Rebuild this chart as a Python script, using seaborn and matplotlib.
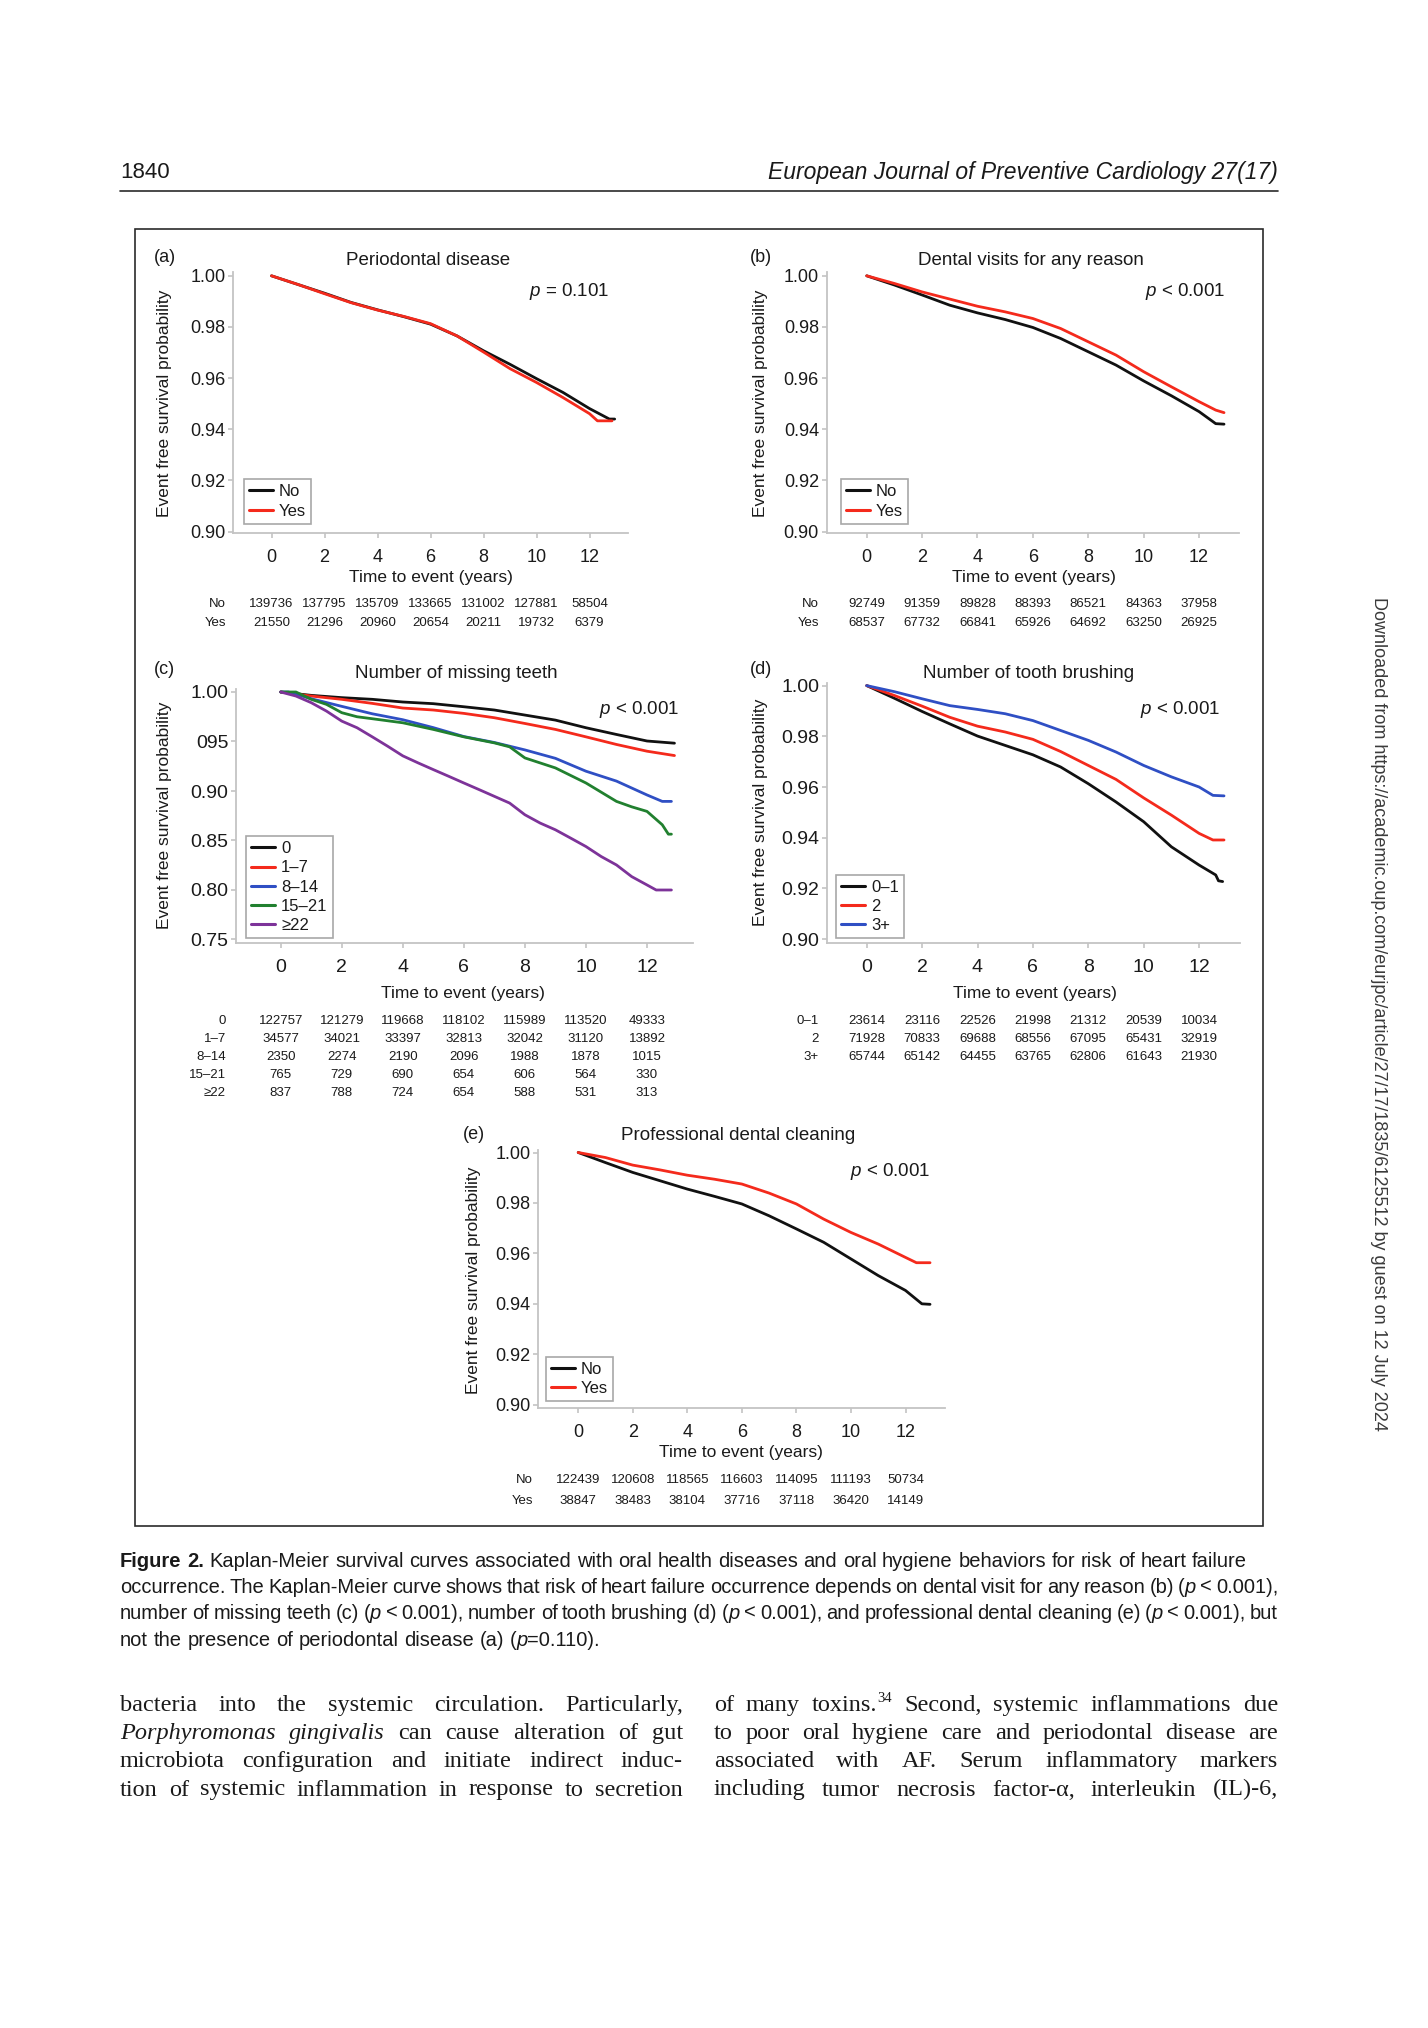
import numpy as np
import pandas as pd
import matplotlib
matplotlib.use("Agg")
import matplotlib.pyplot as plt
import seaborn as sns
from matplotlib import font_manager, transforms
from matplotlib.lines import Line2D
from matplotlib.patches import Rectangle

W, H = 1428, 2028

# ---------------- data ----------------
years = [0, 2, 4, 6, 8, 10, 12]

# (a) Periodontal disease
a_t_no = [0, 1, 2, 3, 4, 5, 6, 7, 8, 9, 10, 11, 12, 12.75, 12.95]
a_no = [1.000, 0.9966, 0.9932, 0.9896, 0.9867, 0.9840, 0.9811, 0.9765, 0.9707, 0.9654, 0.9598, 0.9544, 0.9481, 0.9440, 0.9440]
a_t_yes = [0, 1, 2, 3, 4, 5, 6, 7, 8, 9, 10, 11, 12, 12.3, 12.85]
a_yes = [1.000, 0.9966, 0.9930, 0.9895, 0.9866, 0.9841, 0.9813, 0.9765, 0.9702, 0.9637, 0.9583, 0.9524, 0.9461, 0.9433, 0.9433]
a_risk_no = [139736, 137795, 135709, 133665, 131002, 127881, 58504]
a_risk_yes = [21550, 21296, 20960, 20654, 20211, 19732, 6379]

# (b) Dental visits for any reason
b_t = [0, 1, 2, 3, 4, 5, 6, 7, 8, 9, 10, 11, 12, 12.6, 12.9]
b_no = [1.000, 0.9964, 0.9925, 0.9885, 0.9855, 0.9829, 0.9798, 0.9755, 0.9703, 0.9651, 0.9589, 0.9531, 0.9469, 0.9422, 0.9420]
b_yes = [1.000, 0.9970, 0.9937, 0.9909, 0.9881, 0.9859, 0.9833, 0.9794, 0.9742, 0.9690, 0.9625, 0.9566, 0.9508, 0.9475, 0.9465]
b_risk_no = [92749, 91359, 89828, 88393, 86521, 84363, 37958]
b_risk_yes = [68537, 67732, 66841, 65926, 64692, 63250, 26925]

# (c) Number of missing teeth
c_t = [0, 1, 2, 3, 4, 5, 6, 7, 8, 9, 10, 11, 12, 12.9]
c_0 = [1.000, 0.9966, 0.9943, 0.9926, 0.9899, 0.9882, 0.9851, 0.9818, 0.9767, 0.9716, 0.9639, 0.9571, 0.9505, 0.9483]
c_1_7 = [1.000, 0.9959, 0.9926, 0.9885, 0.9838, 0.9818, 0.9784, 0.9740, 0.9682, 0.9622, 0.9547, 0.9470, 0.9402, 0.9358]
c_t_8_14 = [0, 0.25, 1, 2, 3, 4, 5, 6, 7, 8, 9, 10, 11, 12, 12.5, 12.8]
c_8_14 = [1.000, 1.000, 0.9932, 0.9855, 0.9780, 0.9720, 0.9640, 0.9550, 0.9490, 0.9415, 0.9330, 0.9200, 0.9100, 0.8960, 0.8895, 0.8895]
c_t_15_21 = [0, 0.5, 1, 1.5, 2, 2.5, 3, 4, 5, 6, 7, 7.5, 8, 9, 10, 11, 11.5, 12, 12.5, 12.7, 12.8]
c_15_21 = [1.000, 1.000, 0.9926, 0.9875, 0.9791, 0.9750, 0.9730, 0.9689, 0.9622, 0.9547, 0.9486, 0.9446, 0.9334, 0.9233, 0.9081, 0.8895, 0.8840, 0.8794, 0.8659, 0.8564, 0.8564]
c_t_22 = [0, 0.5, 1, 1.5, 2, 2.5, 3, 3.5, 4, 4.5, 5, 5.5, 6, 6.5, 7, 7.5, 8, 8.5, 9, 9.5, 10, 10.5, 11, 11.5, 12, 12.3, 12.8]
c_22 = [1.000, 0.9959, 0.9892, 0.9807, 0.9706, 0.9639, 0.9547, 0.9453, 0.9355, 0.9284, 0.9216, 0.9149, 0.9081, 0.9014, 0.8946, 0.8878, 0.8760, 0.8676, 0.8608, 0.8524, 0.8439, 0.8338, 0.8253, 0.8135, 0.8051, 0.8000, 0.8000]
c_risk = {
    "0": [122757, 121279, 119668, 118102, 115989, 113520, 49333],
    "1\u20137": [34577, 34021, 33397, 32813, 32042, 31120, 13892],
    "8\u201314": [2350, 2274, 2190, 2096, 1988, 1878, 1015],
    "15\u201321": [765, 729, 690, 654, 606, 564, 330],
    "\u226522": [837, 788, 724, 654, 588, 531, 313],
}

# (d) Number of tooth brushing
d_t_01 = [0, 1, 2, 3, 4, 5, 6, 7, 8, 9, 10, 11, 12, 12.6, 12.7, 12.85]
d_01 = [1.000, 0.9950, 0.9898, 0.9849, 0.9801, 0.9764, 0.9727, 0.9679, 0.9613, 0.9541, 0.9463, 0.9364, 0.9292, 0.9253, 0.9230, 0.9227]
d_t = [0, 1, 2, 3, 4, 5, 6, 7, 8, 9, 10, 11, 12, 12.5, 12.9]
d_2 = [1.000, 0.9961, 0.9919, 0.9875, 0.9840, 0.9817, 0.9788, 0.9740, 0.9685, 0.9630, 0.9557, 0.9489, 0.9417, 0.9391, 0.9391]
d_3 = [1.000, 0.9976, 0.9948, 0.9921, 0.9906, 0.9889, 0.9862, 0.9823, 0.9784, 0.9738, 0.9685, 0.9640, 0.9600, 0.9567, 0.9565]
d_risk = {
    "0\u20131": [23614, 23116, 22526, 21998, 21312, 20539, 10034],
    "2": [71928, 70833, 69688, 68556, 67095, 65431, 32919],
    "3+": [65744, 65142, 64455, 63765, 62806, 61643, 21930],
}

# (e) Professional dental cleaning
e_t_no = [0, 1, 2, 3, 4, 5, 6, 7, 8, 9, 10, 11, 12, 12.6, 12.9]
e_no = [1.000, 0.9960, 0.9921, 0.9888, 0.9855, 0.9826, 0.9796, 0.9749, 0.9697, 0.9644, 0.9578, 0.9512, 0.9453, 0.9400, 0.9398]
e_t_yes = [0, 1, 2, 3, 4, 5, 6, 7, 8, 9, 10, 11, 12, 12.4, 12.9]
e_yes = [1.000, 0.9980, 0.9950, 0.9931, 0.9910, 0.9894, 0.9875, 0.9839, 0.9796, 0.9736, 0.9683, 0.9637, 0.9584, 0.9563, 0.9563]
e_risk_no = [122439, 120608, 118565, 116603, 114095, 111193, 50734]
e_risk_yes = [38847, 38483, 38104, 37716, 37118, 36420, 14149]

yt_standard = [0.90, 0.92, 0.94, 0.96, 0.98, 1.00]
yt_standard_labels = ["0.90", "0.92", "0.94", "0.96", "0.98", "1.00"]
yt_c = [0.75, 0.80, 0.85, 0.90, 0.95, 1.00]
yt_c_labels = ["0.75", "0.80", "0.85", "0.90", "095", "1.00"]

BLACK, RED, BLUE, GREEN, PURPLE = "#111111", "#f42a1c", "#2f4fc4", "#21802f", "#7d3399"

# ---------------- style ----------------
sns.set_theme(style="ticks")
plt.rcParams["font.family"] = ["Liberation Sans", "DejaVu Sans"]
plt.rcParams["mathtext.fontset"] = "custom"
plt.rcParams["mathtext.it"] = "Liberation Sans:italic"
plt.rcParams["mathtext.rm"] = "Liberation Sans"
avail = {f.name for f in font_manager.fontManager.ttflist}
NARROW = "Liberation Sans Narrow" if "Liberation Sans Narrow" in avail else "Liberation Sans"
SERIF = "Liberation Serif" if "Liberation Serif" in avail else "DejaVu Serif"

SPINE = "#c4c4c4"
TXT = "#1a1a1a"


def fx(px):
    return px / W


def fy(py):
    return 1 - py / H


fig = plt.figure(figsize=(W / 100, H / 100), dpi=100)
fig.patch.set_facecolor("white")


def km_panel(spec):
    x0, x12 = spec["xpx"]
    (yv1, yp1), (yv2, yp2) = spec["ypx"]
    xlim, ylim = spec["xlim"], spec["ylim"]
    sx = (x12 - x0) / 12.0
    left = x0 + xlim[0] * sx
    right = x0 + xlim[1] * sx
    sy = (yp2 - yp1) / (yv1 - yv2)
    top = yp1 - (ylim[1] - yv1) * sy
    bottom = yp2 + (yv2 - ylim[0]) * sy
    ax = fig.add_axes([fx(left), fy(bottom), (right - left) / W, (bottom - top) / H])
    frames = [pd.DataFrame({"time": t, "surv": s, "group": g}) for g, t, s in spec["series"]]
    df = pd.concat(frames, ignore_index=True)
    labels = [g for g, _, _ in spec["series"]]
    sns.lineplot(data=df, x="time", y="surv", hue="group", hue_order=labels,
                 palette=spec["colors"], estimator=None, sort=False, linewidth=2.0,
                 legend=False, ax=ax)
    ax.set_xlim(xlim)
    ax.set_ylim(ylim)
    ax.set_facecolor("none")
    ax.grid(False)
    for s in ["top", "right"]:
        ax.spines[s].set_visible(False)
    for s in ["left", "bottom"]:
        ax.spines[s].set_color(SPINE)
        ax.spines[s].set_linewidth(1.3)
    ax.set_xticks(years)
    ax.set_xticklabels([str(v) for v in years])
    ax.set_yticks(spec["yticks"])
    ax.set_yticklabels(spec["yticklabels"])
    ts = spec.get("ts", 13)
    ax.tick_params(axis="both", colors=SPINE, labelcolor=TXT, length=3.5, width=1.2, labelsize=ts)
    ax.tick_params(axis="x", pad=8)
    ax.tick_params(axis="y", pad=2)
    ax.set_xlabel("Time to event (years)", fontsize=12.5, color=TXT)
    ax.set_ylabel("Event free survival probability", fontsize=12.5, color=TXT)
    ax.xaxis.set_label_coords(fx(spec["xlabel"][0]), fy(spec["xlabel"][1]), transform=fig.transFigure)
    ax.yaxis.set_label_coords(fx(spec["ylabel"][0]), fy(spec["ylabel"][1]), transform=fig.transFigure)
    ax.xaxis.label.set_va("center")
    ax.yaxis.label.set_va("center")
    # letter, title, p-value
    fig.text(fx(spec["letter"][0]), fy(spec["letter"][1]), spec["letter_txt"], ha="left", va="center",
             fontsize=13, color=TXT)
    fig.text(fx(spec["title"][0]), fy(spec["title"][1]), spec["title_txt"], ha="center", va="center",
             fontsize=13.5, color=TXT)
    fig.text(fx(spec["p"][0]), fy(spec["p"][1]), spec["p_txt"], ha="center", va="center",
             fontsize=13.5, color=TXT)
    # legend
    handles = [Line2D([0], [0], color=c, lw=2.2) for c in spec["colors"]]
    leg = ax.legend(handles, labels, loc="lower left",
                    bbox_to_anchor=(fx(spec["legend"][0]), fy(spec["legend"][1])),
                    bbox_transform=fig.transFigure, frameon=True, fancybox=False,
                    borderaxespad=0, fontsize=12, handlelength=1.45, handletextpad=0.35,
                    borderpad=0.3, labelspacing=0.25)
    leg.get_frame().set_edgecolor("#a8a8a8")
    leg.get_frame().set_linewidth(1.2)
    leg.get_frame().set_alpha(1)
    for t in leg.get_texts():
        t.set_color(TXT)
    # number-at-risk table
    tr = transforms.blended_transform_factory(ax.transData, fig.transFigure)
    for (rlabel, vals), ry in zip(spec["risk"], spec["risk_y"]):
        fig.text(fx(spec["risk_x"]), fy(ry), rlabel, ha="right", va="center", fontsize=9.5, color=TXT)
        for yr, v in zip(years, vals):
            ax.text(yr, fy(ry), str(v), transform=tr, ha="center", va="center",
                    fontsize=9.5, color=TXT, clip_on=False)
    return ax


panels = [
    dict(letter_txt="(a)", title_txt="Periodontal disease", p_txt="$p$ = 0.101",
         series=[("No", a_t_no, a_no), ("Yes", a_t_yes, a_yes)], colors=[BLACK, RED],
         xpx=(271.5, 589.5), ypx=((1.00, 275.8), (0.90, 531.6)),
         xlim=(-1.45, 13.47), ylim=(0.8993, 1.0013),
         yticks=yt_standard, yticklabels=yt_standard_labels,
         letter=(154, 257.5), title=(428.5, 261), p=(569, 291),
         xlabel=(430.5, 577.5), ylabel=(164, 403.5), legend=(243.5, 523.5),
         risk=[("No", a_risk_no), ("Yes", a_risk_yes)], risk_x=226, risk_y=[604, 623.5]),
    dict(letter_txt="(b)", title_txt="Dental visits for any reason", p_txt="$p$ < 0.001",
         series=[("No", b_t, b_no), ("Yes", b_t, b_yes)], colors=[BLACK, RED],
         xpx=(866.7, 1199.1), ypx=((1.00, 275.8), (0.90, 531.6)),
         xlim=(-1.45, 13.45), ylim=(0.8993, 1.0013),
         yticks=yt_standard, yticklabels=yt_standard_labels,
         letter=(750, 257.5), title=(1031, 261), p=(1185, 291),
         xlabel=(1034, 577.5), ylabel=(760.6, 403.5), legend=(841, 523.5),
         risk=[("No", b_risk_no), ("Yes", b_risk_yes)], risk_x=819, risk_y=[604, 623.5]),
    dict(letter_txt="(c)", title_txt="Number of missing teeth", p_txt="$p$ < 0.001",
         series=[("0", c_t, c_0), ("1\u20137", c_t, c_1_7), ("8\u201314", c_t_8_14, c_8_14),
                 ("15\u201321", c_t_15_21, c_15_21), ("\u226522", c_t_22, c_22)],
         colors=[BLACK, RED, BLUE, GREEN, PURPLE],
         xpx=(280.7, 647.0), ypx=((1.00, 692.0), (0.75, 939.5)),
         xlim=(-1.46, 13.5), ylim=(0.7465, 1.0027),
         yticks=yt_c, yticklabels=yt_c_labels, ts=14,
         letter=(154, 670), title=(456.6, 674), p=(639, 710),
         xlabel=(463, 993.4), ylabel=(164, 815), legend=(246, 938),
         risk=list(c_risk.items()), risk_x=226,
         risk_y=[1020.6, 1038.7, 1056.8, 1074.9, 1093]),
    dict(letter_txt="(d)", title_txt="Number of tooth brushing", p_txt="$p$ < 0.001",
         series=[("0\u20131", d_t_01, d_01), ("2", d_t, d_2), ("3+", d_t, d_3)],
         colors=[BLACK, RED, BLUE],
         xpx=(866.7, 1199.1), ypx=((1.00, 685.6), (0.90, 939.1)),
         xlim=(-1.44, 13.47), ylim=(0.8984, 1.0009),
         yticks=yt_standard, yticklabels=yt_standard_labels, ts=14,
         letter=(750, 670), title=(1029, 674), p=(1180, 710),
         xlabel=(1035, 993.4), ylabel=(760.6, 812), legend=(836, 938),
         risk=list(d_risk.items()), risk_x=819, risk_y=[1020.6, 1038.7, 1056.8]),
    dict(letter_txt="(e)", title_txt="Professional dental cleaning", p_txt="$p$ < 0.001",
         series=[("No", e_t_no, e_no), ("Yes", e_t_yes, e_yes)], colors=[BLACK, RED],
         xpx=(578.2, 905.5), ypx=((1.00, 1152.5), (0.90, 1404.7)),
         xlim=(-1.46, 13.46), ylim=(0.8987, 1.0011),
         yticks=yt_standard, yticklabels=yt_standard_labels,
         letter=(463, 1134.4), title=(738.5, 1135.7), p=(890, 1172),
         xlabel=(741, 1452.6), ylabel=(473.4, 1280.6), legend=(546, 1401),
         risk=[("No", e_risk_no), ("Yes", e_risk_yes)], risk_x=533, risk_y=[1479.8, 1500.5]),
]

for spec in panels:
    km_panel(spec)

# ---------------- page furniture ----------------
fig.text(fx(120), fy(172), "1840", ha="left", va="center", fontsize=16, family=[NARROW, "DejaVu Sans"], color=TXT)
fig.text(fx(1278), fy(172), "European Journal of Preventive Cardiology 27(17)", ha="right", va="center",
         fontsize=16.5, style="italic", family=[NARROW, "DejaVu Sans"], color=TXT)
fig.add_artist(Line2D([fx(120), fx(1278)], [fy(190.5), fy(190.5)], transform=fig.transFigure,
                      color="#2a2a2a", lw=1.2))
fig.add_artist(Rectangle((fx(134.5), fy(1526)), (1262.5 - 134.5) / W, (1526 - 229) / H,
                         transform=fig.transFigure, fill=False, edgecolor="#2a2a2a", lw=1.2))
fig.text(fx(1379), fy(1014), "Downloaded from https://academic.oup.com/eurjpc/article/27/17/1835/6125512 by guest on 12 July 2024",
         rotation=-90, ha="center", va="center", fontsize=13, color="#3a3a3a")

renderer = fig.canvas.get_renderer()


def words(s, **props):
    return [[(w, props)] for w in s.split()]


def draw_line(line, x0, x1, baseline, base, justify=True):
    placed, widths = [], []
    for word in line:
        arts, w = [], 0.0
        for txt, props in word:
            p = dict(base)
            p.update(props)
            dy = p.pop("dy", 0)
            t = fig.text(0, 0, txt, ha="left", va="baseline", **p)
            bb = t.get_window_extent(renderer)
            arts.append((t, w, dy))
            w += bb.width
        placed.append(arts)
        widths.append(w)
    probe = fig.text(0, 0, "n n", **base)
    probe2 = fig.text(0, 0, "nn", **base)
    space = probe.get_window_extent(renderer).width - probe2.get_window_extent(renderer).width
    probe.remove()
    probe2.remove()
    if justify and len(line) > 1:
        gap = (x1 - x0 - sum(widths)) / (len(line) - 1)
    else:
        gap = space
    x = x0
    for arts, w in zip(placed, widths):
        for t, off, dy in arts:
            t.set_position((fx(x + off), fy(baseline - dy)))
        x += w + gap


B = dict(weight="bold")
I = dict(style="italic")
cap_base = dict(fontsize=14.5, family=[NARROW, "DejaVu Sans"], color=TXT)


def pw():
    return [[("(", {}), ("p", I)]]


cap_lines = [
    ([[("Figure", B)], [("2.", B)]] + words("Kaplan-Meier survival curves associated with oral health diseases and oral hygiene behaviors for risk of heart failure"), 1247, True),
    (words("occurrence. The Kaplan-Meier curve shows that risk of heart failure occurrence depends on dental visit for any reason (b)") + pw() + words("< 0.001),"), 1278, True),
    (words("number of missing teeth (c)") + pw() + words("< 0.001), number of tooth brushing (d)") + pw() + words("< 0.001), and professional dental cleaning (e)") + pw() + words("< 0.001), but"), 1278, True),
    (words("not the presence of periodontal disease (a)") + [[("(", {}), ("p", I), ("=0.110).", {})]], 1278, False),
]
for (line, xr, j), bl in zip(cap_lines, [1567, 1593, 1619, 1646]):
    draw_line(line, 120, xr, bl, cap_base, justify=j)

body_base = dict(fontsize=17.5, family=[SERIF, "DejaVu Serif"], color=TXT)
SUP = dict(fontsize=10.5, dy=9)
left_col = [
    words("bacteria into the systemic circulation. Particularly,"),
    words("Porphyromonas gingivalis", style="italic") + words("can cause alteration of gut"),
    words("microbiota configuration and initiate indirect induc-"),
    words("tion of systemic inflammation in response to secretion"),
]
right_col = [
    words("of many") + [[("toxins.", {}), ("34", SUP)]] + words("Second, systemic inflammations due"),
    words("to poor oral hygiene care and periodontal disease are"),
    words("associated with AF. Serum inflammatory markers"),
    words("including tumor necrosis factor-\u03b1, interleukin (IL)-6,"),
]
for line, bl in zip(left_col, [1711, 1739, 1767, 1795.5]):
    draw_line(line, 120, 683, bl, body_base)
for line, bl in zip(right_col, [1711, 1739, 1767, 1795.5]):
    draw_line(line, 714, 1278, bl, body_base)

fig.savefig("out.png", dpi=100, facecolor="white")
